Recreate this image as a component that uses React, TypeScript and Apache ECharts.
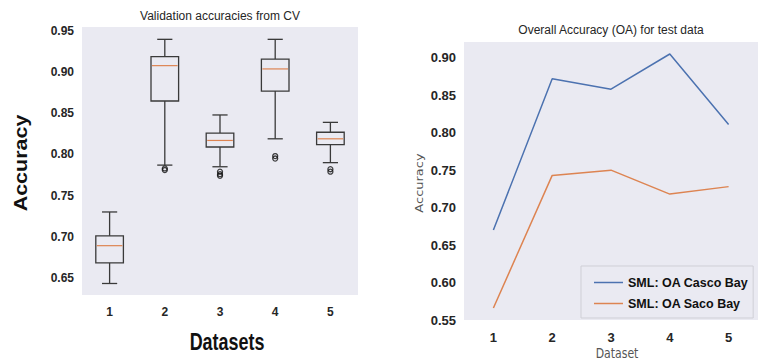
import { useEffect, useRef } from "react";
import * as echarts from "echarts";

// ---- data ----
const categories = ["1", "2", "3", "4", "5"];
const cvWhiskerLow = [0.643, 0.787, 0.785, 0.819, 0.79];
const cvQ1 = [0.668, 0.865, 0.809, 0.877, 0.812];
const cvMedian = [0.689, 0.908, 0.817, 0.904, 0.819];
const cvQ3 = [0.701, 0.919, 0.826, 0.916, 0.827];
const cvWhiskerHigh = [0.73, 0.94, 0.848, 0.94, 0.839];
const cvOutlierCat = [1, 1, 2, 2, 2, 3, 3, 4, 4];
const cvOutlierVal = [0.783, 0.781, 0.779, 0.776, 0.774, 0.798, 0.795, 0.782, 0.779];
const leftTicks = [0.65, 0.7, 0.75, 0.8, 0.85, 0.9, 0.95];

const cascoOA = [0.67, 0.872, 0.858, 0.905, 0.811];
const sacoOA = [0.566, 0.743, 0.75, 0.718, 0.728];
const rightTicks = [0.55, 0.6, 0.65, 0.7, 0.75, 0.8, 0.85, 0.9];

const BG = "#EAEAF2";
const TXT = "#262626";
const BLUE = "#4C72B0";
const ORANGE = "#DD8452";
const BOXC = "#3a3a3a";
const LINE_ICON = "path://M0,0 L29,0 L29,1.5 L0,1.5 Z";

export default function App() {
  const ref = useRef<HTMLDivElement>(null);
  useEffect(() => {
    if (!ref.current) return;
    const chart = echarts.init(ref.current, undefined, { renderer: "svg" });
    const boxData = categories.map((_, i) => [
      i,
      cvWhiskerLow[i],
      cvQ1[i],
      cvMedian[i],
      cvQ3[i],
      cvWhiskerHigh[i],
    ]);
    const outData = cvOutlierCat.map((c, i) => [c, cvOutlierVal[i]]);
    const fmt = (v: number) => v.toFixed(2);

    chart.setOption({
      animation: false,
      backgroundColor: "#ffffff",
      textStyle: { fontFamily: "Liberation Sans" },
      grid: [
        { left: 82, top: 27, width: 276, height: 268, show: true, backgroundColor: BG, borderWidth: 0 },
        { left: 464, top: 42, width: 294, height: 278, show: true, backgroundColor: BG, borderWidth: 0 },
      ],
      xAxis: [
        {
          type: "category",
          gridIndex: 0,
          data: categories,
          boundaryGap: true,
          axisLine: { show: false },
          axisTick: { show: false },
          axisLabel: { fontFamily: "Liberation Sans", fontWeight: "bold", fontSize: 12, color: TXT, margin: 11 },
        },
        {
          type: "category",
          gridIndex: 1,
          data: categories,
          boundaryGap: true,
          axisLine: { show: false },
          axisTick: { show: false },
          axisLabel: { fontFamily: "Liberation Sans", fontWeight: "bold", fontSize: 13, color: TXT, margin: 11 },
        },
      ],
      yAxis: [
        {
          type: "value",
          gridIndex: 0,
          min: 0.629,
          max: 0.955,
          axisLine: { show: false },
          axisTick: { show: false },
          splitLine: { show: false },
          axisLabel: {
            customValues: leftTicks,
            formatter: fmt,
            fontFamily: "Liberation Sans",
            fontWeight: "bold",
            fontSize: 12,
            color: TXT,
            margin: 8,
          },
        },
        {
          type: "value",
          gridIndex: 1,
          min: 0.55,
          max: 0.921,
          axisLine: { show: false },
          axisTick: { show: false },
          splitLine: { show: false },
          axisLabel: {
            customValues: rightTicks,
            formatter: fmt,
            fontFamily: "Liberation Sans",
            fontWeight: "bold",
            fontSize: 13,
            color: TXT,
            margin: 8,
          },
        },
      ],
      legend: {
        orient: "vertical",
        left: 581,
        top: 266,
        padding: [9, 5, 7, 13],
        icon: LINE_ICON,
        itemWidth: 29,
        itemHeight: 1.5,
        itemGap: 6,
        backgroundColor: BG,
        borderColor: "#cfcfd6",
        borderWidth: 1,
        textStyle: {
          fontFamily: "Liberation Sans",
          fontWeight: "bold",
          fontSize: 12.5,
          lineHeight: 15,
          color: "#111",
        },
        data: ["SML: OA Casco Bay", "SML: OA Saco Bay"],
      },
      graphic: [
        {
          type: "text",
          x: 220,
          y: 16,
          style: { text: "Validation accuracies from CV", align: "center", verticalAlign: "middle", fontFamily: "Liberation Sans", fontSize: 12, fill: TXT },
        },
        {
          type: "text",
          x: 611,
          y: 30,
          style: { text: "Overall Accuracy (OA) for test data", align: "center", verticalAlign: "middle", fontFamily: "Liberation Sans", fontSize: 12, fill: TXT },
        },
        {
          type: "text",
          x: 227,
          y: 342,
          scaleX: 0.78,
          style: { text: "Datasets", align: "center", verticalAlign: "middle", fontFamily: "Liberation Sans", fontWeight: "bold", fontSize: 23, fill: "#111" },
        },
        {
          type: "text",
          x: 21,
          y: 163,
          rotation: Math.PI / 2,
          scaleY: 0.85,
          style: { text: "Accuracy", align: "center", verticalAlign: "middle", fontFamily: "Liberation Sans", fontWeight: "bold", fontSize: 21.5, fill: "#111" },
        },
        {
          type: "text",
          x: 617,
          y: 353,
          scaleX: 0.78,
          style: { text: "Dataset", align: "center", verticalAlign: "middle", fontFamily: "DejaVu Sans", fontSize: 14, fill: "#555" },
        },
        {
          type: "text",
          x: 419,
          y: 183,
          rotation: Math.PI / 2,
          scaleY: 0.85,
          style: { text: "Accuracy", align: "center", verticalAlign: "middle", fontFamily: "DejaVu Sans", fontSize: 13, fill: "#555" },
        },
      ],
      series: [
        {
          type: "custom",
          name: "cv",
          xAxisIndex: 0,
          yAxisIndex: 0,
          data: boxData,
          encode: { x: 0, y: [1, 2, 3, 4, 5] },
          renderItem: (params: any, api: any) => {
            const idx = api.value(0);
            const band = api.size([1, 0])[0];
            const bw = band * 0.5;
            const cw = bw * 0.55;
            const pLow = api.coord([idx, api.value(1)]);
            const pQ1 = api.coord([idx, api.value(2)]);
            const pMed = api.coord([idx, api.value(3)]);
            const pQ3 = api.coord([idx, api.value(4)]);
            const pHigh = api.coord([idx, api.value(5)]);
            const cx = pQ1[0];
            const ls = { stroke: BOXC, lineWidth: 1.3, fill: "none" };
            return {
              type: "group",
              children: [
                { type: "rect", shape: { x: cx - bw / 2, y: pQ3[1], width: bw, height: pQ1[1] - pQ3[1] }, style: ls },
                { type: "line", shape: { x1: cx, y1: pQ3[1], x2: cx, y2: pHigh[1] }, style: ls },
                { type: "line", shape: { x1: cx, y1: pQ1[1], x2: cx, y2: pLow[1] }, style: ls },
                { type: "line", shape: { x1: cx - cw / 2, y1: pHigh[1], x2: cx + cw / 2, y2: pHigh[1] }, style: ls },
                { type: "line", shape: { x1: cx - cw / 2, y1: pLow[1], x2: cx + cw / 2, y2: pLow[1] }, style: ls },
                { type: "line", shape: { x1: cx - bw / 2 + 1, y1: pMed[1], x2: cx + bw / 2 - 1, y2: pMed[1] }, style: { stroke: ORANGE, lineWidth: 1.2 } },
              ],
            };
          },
        },
        {
          type: "scatter",
          name: "outliers",
          xAxisIndex: 0,
          yAxisIndex: 0,
          data: outData,
          symbol: "circle",
          symbolSize: 5,
          itemStyle: { color: "none", borderColor: "#111", borderWidth: 1.3 },
        },
        {
          type: "line",
          name: "SML: OA Casco Bay",
          xAxisIndex: 1,
          yAxisIndex: 1,
          data: cascoOA,
          symbol: "none",
          lineStyle: { color: BLUE, width: 1.5 },
          itemStyle: { color: BLUE },
        },
        {
          type: "line",
          name: "SML: OA Saco Bay",
          xAxisIndex: 1,
          yAxisIndex: 1,
          data: sacoOA,
          symbol: "none",
          lineStyle: { color: ORANGE, width: 1.5 },
          itemStyle: { color: ORANGE },
        },
      ],
    });
    return () => chart.dispose();
  }, []);
  return (
    <div
      ref={ref}
      style={{ position: "fixed", left: 0, top: 0, width: 769, height: 363 }}
    />
  );
}
